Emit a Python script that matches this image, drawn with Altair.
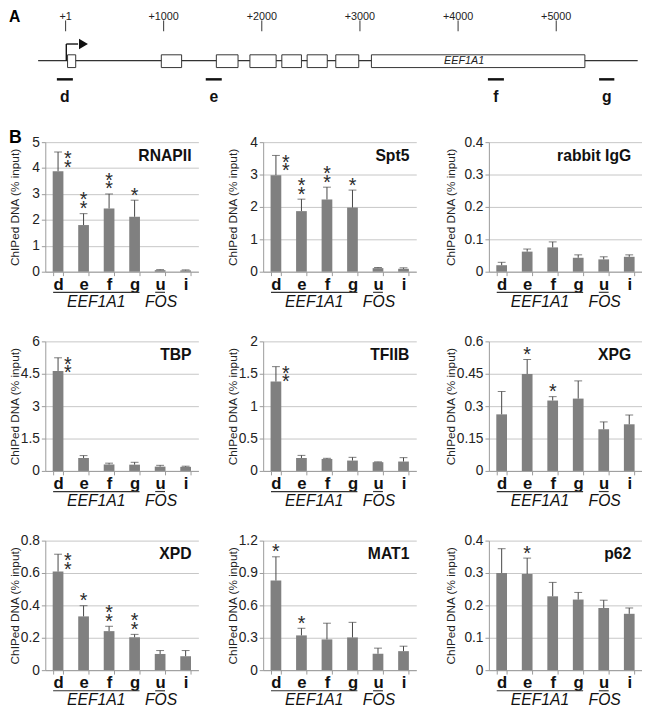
import altair as alt
import pandas as pd

FONT = "Liberation Sans"
DARK = "#222222"
BAR = "#808080"
ERR = "#444444"
GRID = "#c6c6c6"
AXC = "#9a9a9a"

# ---------------- Panel A: EEF1A1 gene map (bp) ----------------
map_tick_bp = [1, 1000, 2000, 3000, 4000, 5000]
map_tick_labels = ["+1", "+1000", "+2000", "+3000", "+4000", "+5000"]
exon_start = [21, 976, 1537, 1879, 2204, 2462, 2754, 3117]
exon_end = [104, 1183, 1758, 2146, 2404, 2667, 2988, 5292]
gene_span = [-279, 5830]
tss_bp = 8
amplicon_names = ["d", "e", "f", "g"]
amplicon_start = [-88, 1429, 4304, 5437]
amplicon_end = [75, 1592, 4467, 5592]
gene_name = "EEF1A1"
gene_name_bp = 4062

# ---------------- Panel B: ChIP values ----------------
SITES = ["d", "e", "f", "g", "u", "i"]
Y_TITLE = "ChIPed DNA (% input)"
gene_groups = ["EEF1A1", "FOS"]
group_first = ["d", "u"]
group_last = ["g", "u"]
group_label_site = ["e", "u"]

rnapii_mean = [3.88, 1.80, 2.44, 2.12, 0.06, 0.05]
rnapii_sd = [0.74, 0.44, 0.56, 0.64, 0.02, 0.02]
rnapii_star = ["**", "**", "**", "*", "", ""]
rnapii_ticks = [0, 1, 2, 3, 4, 5]

spt5_mean = [2.98, 1.87, 2.23, 1.98, 0.11, 0.09]
spt5_sd = [0.61, 0.37, 0.38, 0.54, 0.02, 0.03]
spt5_star = ["**", "**", "**", "*", "", ""]
spt5_ticks = [0, 1, 2, 3, 4]

igg_mean = [0.020, 0.062, 0.075, 0.043, 0.038, 0.046]
igg_sd = [0.009, 0.008, 0.017, 0.009, 0.008, 0.006]
igg_star = ["", "", "", "", "", ""]
igg_ticks = [0, 0.1, 0.2, 0.3, 0.4]

tbp_mean = [4.63, 0.60, 0.30, 0.29, 0.20, 0.19]
tbp_sd = [0.61, 0.11, 0.06, 0.11, 0.06, 0.03]
tbp_star = ["**", "", "", "", "", ""]
tbp_ticks = [0, 1.5, 3, 4.5, 6]

tfiib_mean = [1.38, 0.20, 0.185, 0.16, 0.135, 0.145]
tfiib_sd = [0.23, 0.04, 0.01, 0.05, 0.005, 0.06]
tfiib_star = ["**", "", "", "", "", ""]
tfiib_ticks = [0, 0.5, 1, 1.5, 2]

xpg_mean = [0.262, 0.449, 0.326, 0.335, 0.193, 0.216]
xpg_sd = [0.106, 0.067, 0.018, 0.082, 0.034, 0.043]
xpg_star = ["", "*", "*", "", "", ""]
xpg_ticks = [0, 0.15, 0.3, 0.45, 0.6]

xpd_mean = [0.609, 0.332, 0.241, 0.203, 0.100, 0.086]
xpd_sd = [0.107, 0.066, 0.030, 0.018, 0.021, 0.035]
xpd_star = ["**", "*", "**", "**", "", ""]
xpd_ticks = [0, 0.2, 0.4, 0.6, 0.8]

mat1_mean = [0.83, 0.322, 0.285, 0.303, 0.152, 0.176]
mat1_sd = [0.22, 0.066, 0.150, 0.140, 0.052, 0.046]
mat1_star = ["*", "*", "", "", "", ""]
mat1_ticks = [0, 0.3, 0.6, 0.9, 1.2]

p62_mean = [0.300, 0.297, 0.228, 0.218, 0.192, 0.174]
p62_sd = [0.075, 0.049, 0.043, 0.022, 0.024, 0.018]
p62_star = ["", "*", "", "", "", ""]
p62_ticks = [0, 0.1, 0.2, 0.3, 0.4]

# panels whose promoter (d) asterisks sit beside the error bar
star_beside_d = {"RNAPII": True, "Spt5": True, "TBP": True, "TFIIB": True, "XPD": True}

PANELS = [
    ["RNAPII", rnapii_mean, rnapii_sd, rnapii_star, rnapii_ticks],
    ["Spt5", spt5_mean, spt5_sd, spt5_star, spt5_ticks],
    ["rabbit IgG", igg_mean, igg_sd, igg_star, igg_ticks],
    ["TBP", tbp_mean, tbp_sd, tbp_star, tbp_ticks],
    ["TFIIB", tfiib_mean, tfiib_sd, tfiib_star, tfiib_ticks],
    ["XPG", xpg_mean, xpg_sd, xpg_star, xpg_ticks],
    ["XPD", xpd_mean, xpd_sd, xpd_star, xpd_ticks],
    ["MAT1", mat1_mean, mat1_sd, mat1_star, mat1_ticks],
    ["p62", p62_mean, p62_sd, p62_star, p62_ticks],
]

H = 132
WIDTHS = [156, 156, 156]
EXTENTS = [19, 19, 27]
TITLE_INSET = [7, 7, 11]
TPAD = 5
LETTER_X = -37   # panel letters A / B, at the left edge of the figure


def bar_panel(name, means, sds, stars, ticks, col, show_b=False):
    W = WIDTHS[col]
    E = EXTENTS[col]
    df = pd.DataFrame({"site": SITES, "mean": means, "sd": sds, "stars": stars})
    df["top"] = df["mean"] + df["sd"]
    df["n"] = df["stars"].str.len()
    beside = star_beside_d.get(name, False)
    df["pos"] = ["beside" if (s == "d" and beside) else "above" for s in SITES]

    xs = alt.Scale(domain=SITES, paddingInner=0.58, paddingOuter=0.29)
    ys = alt.Scale(domain=[0, ticks[-1]], nice=False, zero=True)
    x_axis = alt.Axis(title=None, labelAngle=0, labelFontSize=17, labelFontWeight="bold",
                      labelColor="#111111", labelPadding=1, tickBand="extent", tickSize=4,
                      tickColor=AXC, domainColor=AXC, grid=False)
    y_axis = alt.Axis(title=Y_TITLE, values=ticks, format=".3~g", labelFontSize=14,
                      labelColor=DARK, labelPadding=2, tickSize=4, tickColor=AXC,
                      domainColor=AXC, gridColor=GRID, grid=True, titleFontSize=12,
                      titleFontWeight="normal", titleColor=DARK, titlePadding=TPAD,
                      minExtent=E, maxExtent=E)
    X = alt.X("site:N", scale=xs, axis=x_axis)
    base = alt.Chart(df)
    bars = base.mark_bar(color=BAR).encode(
        x=X, y=alt.Y("mean:Q", scale=ys, axis=y_axis))
    err = base.mark_rule(color=ERR, strokeWidth=1).encode(
        x=X, y=alt.Y("mean:Q", scale=ys, axis=y_axis), y2="top:Q")
    Ytop = alt.Y("top:Q", scale=ys, axis=y_axis)
    cap = base.mark_tick(color=ERR, thickness=1, size=8, orient="horizontal").encode(
        x=X, y=Ytop)
    star_style = dict(text="*", fontSize=20, color="#2a2a2a", baseline="alphabetic")
    s1 = base.transform_filter("datum.n >= 1 && datum.pos == 'above'").mark_text(
        dy=1.5, **star_style).encode(x=X, y=Ytop)
    s2 = base.transform_filter("datum.n == 2 && datum.pos == 'above'").mark_text(
        dy=-7.5, **star_style).encode(x=X, y=Ytop)
    s3 = base.transform_filter("datum.n >= 1 && datum.pos == 'beside'").mark_text(
        dx=10, dy=13.5, **star_style).encode(x=X, y=Ytop)
    s4 = base.transform_filter("datum.n == 2 && datum.pos == 'beside'").mark_text(
        dx=10, dy=22, **star_style).encode(x=X, y=Ytop)

    ttl = alt.Chart(pd.DataFrame({"t": [name]})).mark_text(
        align="right", baseline="alphabetic", fontSize=16, fontWeight="bold", color="#111111"
    ).encode(text="t:N", x=alt.value(W - TITLE_INSET[col]), y=alt.value(19))

    gdf = pd.DataFrame({"gene": gene_groups, "first": group_first, "last": group_last,
                        "lab": group_label_site})
    GX = lambda f: alt.X(f, type="nominal", scale=xs, axis=x_axis)
    under = alt.Chart(gdf).mark_rule(color="#333333", strokeWidth=1.2, xOffset=-5, x2Offset=5).encode(
        x=GX("first"), x2="last:N", y=alt.value(H + 21))
    step = W / 6.0
    glab1 = alt.Chart(gdf).transform_filter("datum.gene == 'EEF1A1'").mark_text(
        dx=step / 2, fontStyle="italic", fontSize=16, baseline="alphabetic", color="#111111"
    ).encode(x=GX("lab"), text="gene:N", y=alt.value(H + 36))
    glab2 = alt.Chart(gdf).transform_filter("datum.gene == 'FOS'").mark_text(
        dx=1, fontStyle="italic", fontSize=16, baseline="alphabetic", color="#111111"
    ).encode(x=GX("lab"), text="gene:N", y=alt.value(H + 36))

    layers = [bars, err, cap, s1, s2, s3, s4, ttl, under, glab1, glab2]
    if show_b:
        blab = alt.Chart(pd.DataFrame({"t": ["B"]})).mark_text(
            align="left", baseline="alphabetic", fontSize=18, fontWeight="bold", color="#000000"
        ).encode(text="t:N", x=alt.value(LETTER_X), y=alt.value(1))
        layers.append(blab)
    return alt.layer(*layers).properties(width=W, height=H)


# ---------- panel A chart (origin aligned with the first bar panel's plot area) ----------
A_W, A_H = 604, 96
axs = alt.Scale(domain=[-206, 5834], nice=False, zero=False)


def AX(f):
    return alt.X(f, type="quantitative", scale=axs, axis=None)


tick_df = pd.DataFrame({"bp": map_tick_bp, "label": map_tick_labels})
exon_df = pd.DataFrame({"start": exon_start, "end": exon_end})
amp_df = pd.DataFrame({"name": amplicon_names, "start": amplicon_start, "end": amplicon_end})
line_df = pd.DataFrame({"start": [gene_span[0]], "end": [gene_span[1]]})
tss_df = pd.DataFrame({"bp": [tss_bp], "tip": [tss_bp + 120], "head": [tss_bp + 175]})

a_lbl = alt.Chart(pd.DataFrame({"t": ["A"]})).mark_text(
    align="left", baseline="top", fontSize=16, fontWeight="bold", color="#000000"
).encode(text="t:N", x=alt.value(LETTER_X), y=alt.value(0))
t_lbl = alt.Chart(tick_df).mark_text(fontSize=11, baseline="top", color=DARK).encode(
    x=AX("bp"), y=alt.value(1.5), text="label:N")
t_rule = alt.Chart(tick_df).mark_rule(color="#333333", strokeWidth=1).encode(
    x=AX("bp"), y=alt.value(11), y2=alt.value(22))
g_line = alt.Chart(line_df).mark_rule(color="#333333", strokeWidth=1.2).encode(
    x=AX("start"), x2="end", y=alt.value(52))
ex = alt.Chart(exon_df).mark_rect(fill="white", stroke="#333333", strokeWidth=1).encode(
    x=AX("start"), x2="end", y=alt.value(46), y2=alt.value(59))
g_txt = alt.Chart(pd.DataFrame({"bp": [gene_name_bp], "t": [gene_name]})).mark_text(
    fontSize=11, fontStyle="italic", baseline="middle", color=DARK).encode(
    x=AX("bp"), y=alt.value(52.5), text="t:N")
arr_v = alt.Chart(tss_df).mark_rule(color="#111111", strokeWidth=1.4).encode(
    x=AX("bp"), y=alt.value(52), y2=alt.value(35))
arr_h = alt.Chart(tss_df).mark_rule(color="#111111", strokeWidth=1.4).encode(
    x=AX("bp"), x2="tip", y=alt.value(35))
arr_head = alt.Chart(tss_df).mark_point(shape="triangle-right", filled=True, color="#111111",
                                        opacity=1, size=110).encode(x=AX("head"), y=alt.value(35))
amp = alt.Chart(amp_df).mark_rule(color="#111111", strokeWidth=2.5).encode(
    x=AX("start"), x2="end", y=alt.value(71))
amp_lbl = alt.Chart(amp_df).transform_calculate(mid="(datum.start + datum.end) / 2").mark_text(
    fontSize=16, fontWeight="bold", baseline="alphabetic", color="#111111").encode(
    x=AX("mid"), y=alt.value(94), text="name:N")

panel_a = alt.layer(a_lbl, t_lbl, t_rule, g_line, ex, g_txt, arr_v, arr_h, arr_head, amp,
                    amp_lbl).properties(width=A_W, height=A_H)

rows = []
for r in range(3):
    cells = []
    for c in range(3):
        nm, m, s, st, tk = PANELS[r * 3 + c]
        cells.append(bar_panel(nm, m, s, st, tk, c, show_b=(r == 0 and c == 0)))
    rows.append(alt.hconcat(*cells, spacing=28))

chart = alt.vconcat(panel_a, *rows, spacing=25).properties(
    padding={"left": 0, "top": -5, "right": 0, "bottom": 0}
).configure(font=FONT).configure_view(strokeWidth=0)

chart.save("out.html", embed_options={"renderer": "svg", "actions": False})
